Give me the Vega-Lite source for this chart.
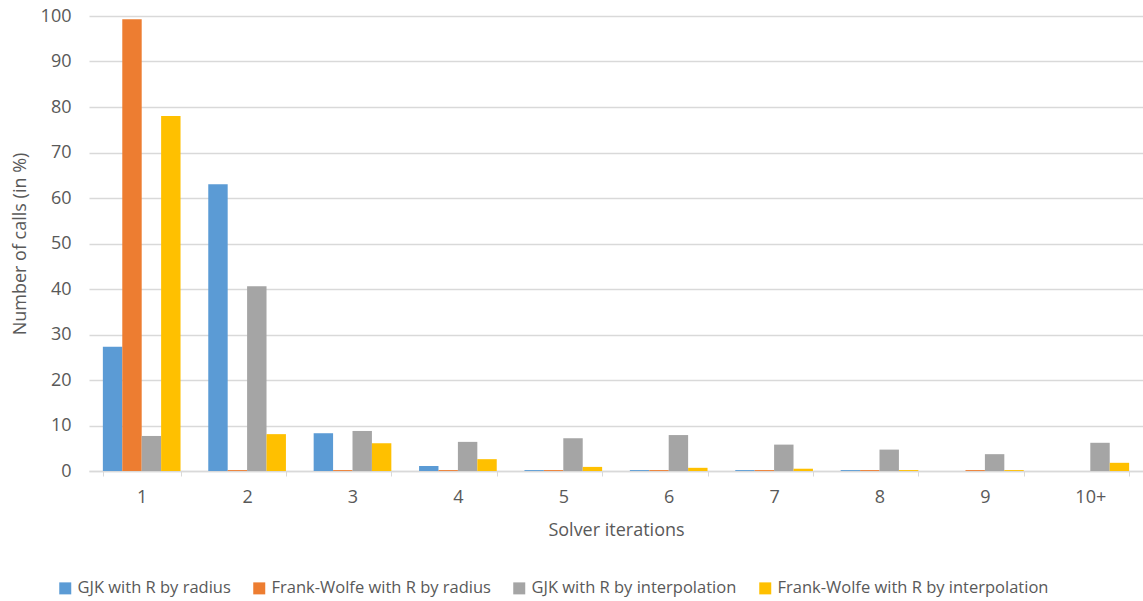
{
  "$schema": "https://vega.github.io/schema/vega-lite/v6.json",
  "width": 1054,
  "height": 455,
  "autosize": {"type": "none"},
  "padding": {"left": 89, "top": 16, "right": 0, "bottom": 130},
  "background": "white",
  "config": {
    "view": {"stroke": null},
    "font": "Open Sans",
    "axis": {"labelColor": "#595959", "titleColor": "#595959", "labelFont": "Open Sans", "titleFont": "Open Sans", "titleFontWeight": "normal"},
    "legend": {"labelColor": "#595959", "labelFont": "Open Sans"}
  },
  "data": {
    "values": [
      {"iter": "1", "series": "GJK with R by radius", "pct": 27.3},
      {"iter": "1", "series": "Frank-Wolfe with R by radius", "pct": 99.3},
      {"iter": "1", "series": "GJK with R by interpolation", "pct": 7.7},
      {"iter": "1", "series": "Frank-Wolfe with R by interpolation", "pct": 78.0},
      {"iter": "2", "series": "GJK with R by radius", "pct": 63.0},
      {"iter": "2", "series": "Frank-Wolfe with R by radius", "pct": 0.2},
      {"iter": "2", "series": "GJK with R by interpolation", "pct": 40.6},
      {"iter": "2", "series": "Frank-Wolfe with R by interpolation", "pct": 8.1},
      {"iter": "3", "series": "GJK with R by radius", "pct": 8.3},
      {"iter": "3", "series": "Frank-Wolfe with R by radius", "pct": 0.2},
      {"iter": "3", "series": "GJK with R by interpolation", "pct": 8.8},
      {"iter": "3", "series": "Frank-Wolfe with R by interpolation", "pct": 6.1},
      {"iter": "4", "series": "GJK with R by radius", "pct": 1.1},
      {"iter": "4", "series": "Frank-Wolfe with R by radius", "pct": 0.2},
      {"iter": "4", "series": "GJK with R by interpolation", "pct": 6.4},
      {"iter": "4", "series": "Frank-Wolfe with R by interpolation", "pct": 2.6},
      {"iter": "5", "series": "GJK with R by radius", "pct": 0.2},
      {"iter": "5", "series": "Frank-Wolfe with R by radius", "pct": 0.2},
      {"iter": "5", "series": "GJK with R by interpolation", "pct": 7.2},
      {"iter": "5", "series": "Frank-Wolfe with R by interpolation", "pct": 0.9},
      {"iter": "6", "series": "GJK with R by radius", "pct": 0.2},
      {"iter": "6", "series": "Frank-Wolfe with R by radius", "pct": 0.2},
      {"iter": "6", "series": "GJK with R by interpolation", "pct": 7.9},
      {"iter": "6", "series": "Frank-Wolfe with R by interpolation", "pct": 0.7},
      {"iter": "7", "series": "GJK with R by radius", "pct": 0.2},
      {"iter": "7", "series": "Frank-Wolfe with R by radius", "pct": 0.2},
      {"iter": "7", "series": "GJK with R by interpolation", "pct": 5.8},
      {"iter": "7", "series": "Frank-Wolfe with R by interpolation", "pct": 0.5},
      {"iter": "8", "series": "GJK with R by radius", "pct": 0.2},
      {"iter": "8", "series": "Frank-Wolfe with R by radius", "pct": 0.2},
      {"iter": "8", "series": "GJK with R by interpolation", "pct": 4.7},
      {"iter": "8", "series": "Frank-Wolfe with R by interpolation", "pct": 0.2},
      {"iter": "9", "series": "GJK with R by radius", "pct": 0},
      {"iter": "9", "series": "Frank-Wolfe with R by radius", "pct": 0.2},
      {"iter": "9", "series": "GJK with R by interpolation", "pct": 3.7},
      {"iter": "9", "series": "Frank-Wolfe with R by interpolation", "pct": 0.2},
      {"iter": "10+", "series": "GJK with R by radius", "pct": 0},
      {"iter": "10+", "series": "Frank-Wolfe with R by radius", "pct": 0},
      {"iter": "10+", "series": "GJK with R by interpolation", "pct": 6.2},
      {"iter": "10+", "series": "Frank-Wolfe with R by interpolation", "pct": 1.8}
    ]
  },
  "mark": {"type": "bar"},
  "encoding": {
    "x": {
      "field": "iter",
      "type": "ordinal",
      "sort": null,
      "scale": {"paddingInner": 0.263, "paddingOuter": 0.1315},
      "axis": {
        "title": "Solver iterations",
        "titleFontSize": 18,
        "titlePadding": 15,
        "labelFontSize": 18,
        "labelAngle": 0,
        "labelPadding": 12,
        "tickBand": "extent",
        "tickSize": 5,
        "tickColor": "#D9D9D9",
        "domainColor": "#D9D9D9",
        "domainWidth": 1.5,
        "grid": false
      }
    },
    "xOffset": {
      "field": "series",
      "type": "nominal",
      "sort": ["GJK with R by radius", "Frank-Wolfe with R by radius", "GJK with R by interpolation", "Frank-Wolfe with R by interpolation"],
      "scale": {"paddingInner": 0, "paddingOuter": 0}
    },
    "y": {
      "field": "pct",
      "type": "quantitative",
      "scale": {"domain": [0, 100], "nice": false},
      "axis": {
        "title": "Number of calls (in %)",
        "titleFontSize": 18,
        "titlePadding": 11,
        "labelFontSize": 18,
        "labelPadding": 18,
        "values": [0, 10, 20, 30, 40, 50, 60, 70, 80, 90, 100],
        "ticks": false,
        "domain": false,
        "gridColor": "#D9D9D9",
        "gridWidth": 1.3
      }
    },
    "color": {
      "field": "series",
      "type": "nominal",
      "sort": ["GJK with R by radius", "Frank-Wolfe with R by radius", "GJK with R by interpolation", "Frank-Wolfe with R by interpolation"],
      "scale": {
        "domain": ["GJK with R by radius", "Frank-Wolfe with R by radius", "GJK with R by interpolation", "Frank-Wolfe with R by interpolation"],
        "range": ["#5B9BD5", "#ED7D31", "#A5A5A5", "#FFC000"]
      },
      "legend": {
        "title": null,
        "orient": "none",
        "direction": "horizontal",
        "legendX": -32,
        "legendY": 564,
        "symbolType": "square",
        "symbolSize": 144,
        "symbolStrokeWidth": 0,
        "labelFontSize": 16.5,
        "labelLimit": 0,
        "labelOffset": 4,
        "columnPadding": 20,
        "padding": 0
      }
    }
  }
}
